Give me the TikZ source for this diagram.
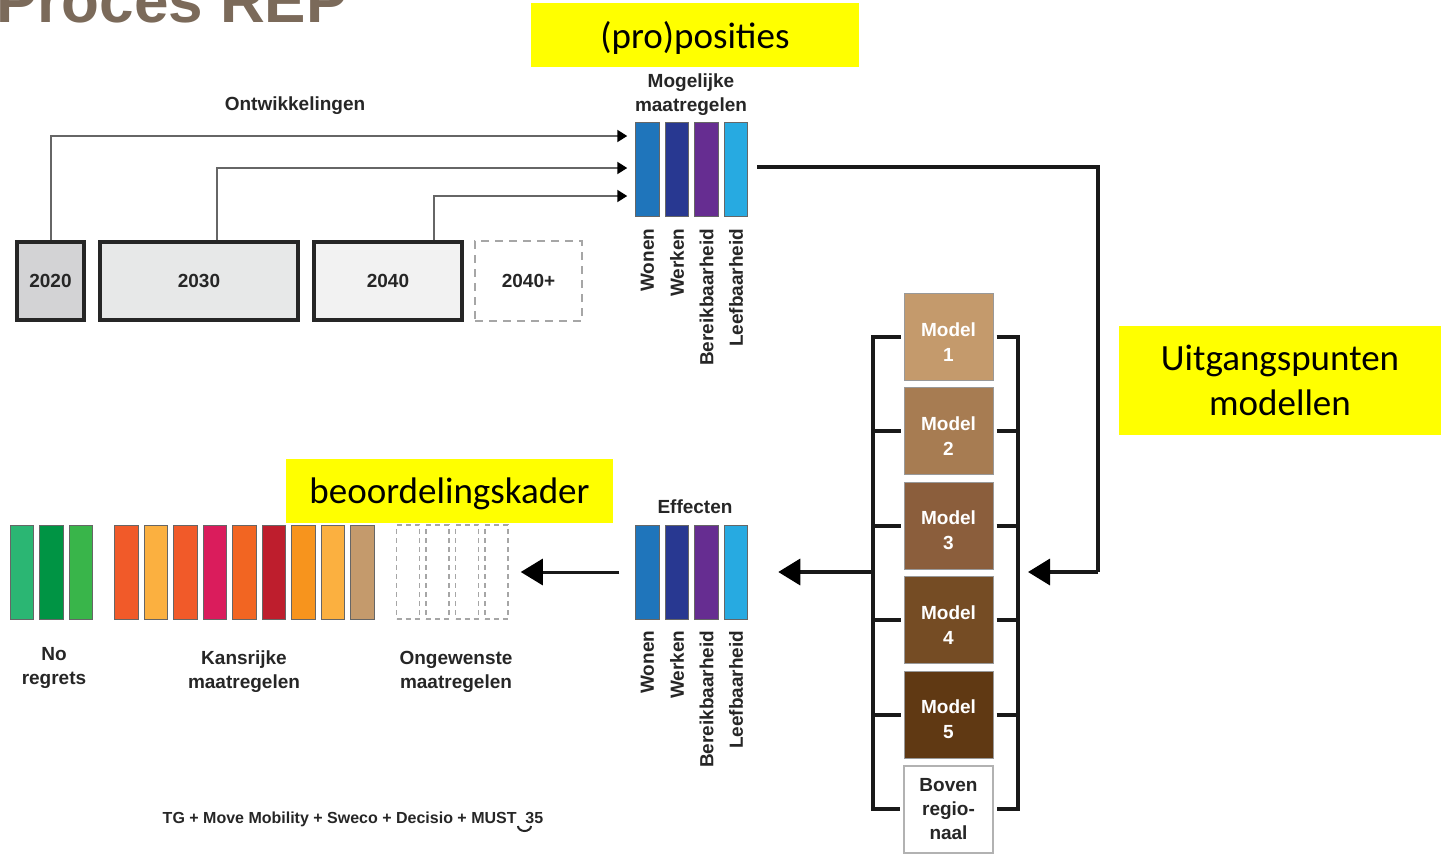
\documentclass[tikz,border=0pt]{standalone}
\usepackage{fontspec}
\setmainfont{Liberation Sans}
\newfontfamily\notefont{Carlito}
\usepackage{xcolor}
\definecolor{TITLECOLOR}{HTML}{7B6A5A}
\definecolor{NOTECOLOR}{HTML}{FFFF00}
\definecolor{Y2020COLOR}{HTML}{D3D3D5}
\definecolor{Y2030COLOR}{HTML}{E7E8E8}
\definecolor{Y2040COLOR}{HTML}{F2F2F2}
\definecolor{WONENCOLOR}{HTML}{1F75BB}
\definecolor{WERKENCOLOR}{HTML}{283891}
\definecolor{BEREIKCOLOR}{HTML}{662D91}
\definecolor{LEEFCOLOR}{HTML}{27AAE1}
\definecolor{MODEL1COLOR}{HTML}{C49A6C}
\definecolor{MODEL2COLOR}{HTML}{A77C52}
\definecolor{MODEL3COLOR}{HTML}{8B5E3C}
\definecolor{MODEL4COLOR}{HTML}{754C24}
\definecolor{MODEL5COLOR}{HTML}{603913}
\definecolor{NR1COLOR}{HTML}{2BB673}
\definecolor{NR2COLOR}{HTML}{009444}
\definecolor{NR3COLOR}{HTML}{39B54A}
\definecolor{KR1COLOR}{HTML}{F15A29}
\definecolor{KR2COLOR}{HTML}{FBB040}
\definecolor{KR3COLOR}{HTML}{DA1C5C}
\definecolor{KR4COLOR}{HTML}{F26522}
\definecolor{KR5COLOR}{HTML}{BE1E2D}
\definecolor{KR6COLOR}{HTML}{F7941D}
\usepackage{tikz}
\usetikzlibrary{positioning,arrows.meta}
\tikzset{
  txt-style/.style = {
    font=\fontsize{19}{24}\selectfont\bfseries,
    text=black!85, inner sep=0pt, align=center
  },
  rot-style/.style = {
    txt-style, rotate=90, anchor=east
  },
  title-style/.style = {
    font=\fontsize{62}{62}\selectfont\bfseries,
    text=TITLECOLOR, inner sep=0pt
  },
  note-style/.style = {
    rectangle, fill=NOTECOLOR, inner sep=0pt, align=center,
    font=\notefont\fontsize{37}{45}\selectfont
  },
  year-style/.style = {
    rectangle, draw=black!85, line width=4pt,
    fill=#1,
    minimum height=78pt, inner sep=0pt,
    font=\fontsize{19}{24}\selectfont\bfseries, text=black!85
  },
  future-style/.style = {
    rectangle, draw=gray!70, line width=2pt, dash pattern=on 8pt off 6pt,
    minimum height=80pt, inner sep=0pt,
    font=\fontsize{19}{24}\selectfont\bfseries, text=black!85
  },
  bar-style/.style = {
    rectangle, draw=black!60, line width=1pt,
    fill=#1,
    minimum width=23.5pt, minimum height=94pt, inner sep=0pt
  },
  ong-style/.style = {
    rectangle, draw=gray!70, line width=1.5pt, dash pattern=on 5pt off 4pt,
    minimum width=23pt, minimum height=94pt, inner sep=0pt
  },
  box-style/.style = {
    rectangle, line width=1pt,
    fill=#1,
    minimum width=89pt, minimum height=87pt, inner sep=0pt,
    align=center
  },
  model-style/.style = {
    box-style=#1, draw=black!40, text=white, text height=49pt,
    font=\fontsize{19}{25}\selectfont\bfseries
  },
  boven-style/.style = {
    box-style=white, draw=gray!60, line width=1.5pt, text=black!85,
    font=\fontsize{19}{24}\selectfont\bfseries
  },
  foot-style/.style = {
    font=\fontsize{16}{18}\selectfont\bfseries, text=black!85, inner sep=0pt
  },
  dev-line/.style = {
    draw=black!60, line width=2pt,
    -{Triangle[length=10pt,width=12pt,color=black]}
  },
  flow-line/.style = {
    draw=black!90, line width=4pt
  },
  flow-arrow/.style = {
    draw=black!90, line width=3.5pt,
    -{Triangle[length=22pt,width=26pt,color=black]}
  },
  bracket-line/.style = {
    draw=black!90, line width=4pt
  }
}

\begin{document}
\begin{tikzpicture}[x=1pt,y=-1pt]
    \useasboundingbox (0,0) rectangle (1441,854);

    %%% title
    \node[title-style,anchor=base west] (title) at (-4,22) {Proces REP};

    %%% ontwikkelingen
    \node[year-style=Y2020COLOR,minimum width=67pt] (y2020) at (50.5,281) {2020};
    \node[year-style=Y2030COLOR,minimum width=198pt,right=12pt of y2020] (y2030) {2030};
    \node[year-style=Y2040COLOR,minimum width=148pt,right=12pt of y2030] (y2040) {2040};
    \node[future-style,minimum width=107pt,right=10pt of y2040] (y2040p) {2040+};
    \node[txt-style] (ontw) at (295,106) {Ontwikkelingen};

    %%% mogelijke maatregelen
    \node[bar-style=WONENCOLOR] (mwonen) at (647.5,169) {};
    \node[bar-style=WERKENCOLOR,right=5pt of mwonen] (mwerken) {};
    \node[bar-style=BEREIKCOLOR,right=5pt of mwerken] (mbereik) {};
    \node[bar-style=LEEFCOLOR,right=5pt of mbereik] (mleef) {};
    \node[txt-style] (mogelijk) at (691,95) {Mogelijke\\maatregelen};
    \node[rot-style] (mwonen-t) at ([yshift=-12pt]mwonen.south) {Wonen};
    \node[rot-style] (mwerken-t) at ([yshift=-12pt]mwerken.south) {Werken};
    \node[rot-style] (mbereik-t) at ([yshift=-12pt]mbereik.south) {Bereikbaarheid};
    \node[rot-style] (mleef-t) at ([yshift=-12pt]mleef.south) {Leefbaarheid};

    %%% modellen
    \node[model-style=MODEL1COLOR] (m1) at (948.5,336.5) {Model\\1};
    \node[model-style=MODEL2COLOR,below=6.5pt of m1] (m2) {Model\\2};
    \node[model-style=MODEL3COLOR,below=6.5pt of m2] (m3) {Model\\3};
    \node[model-style=MODEL4COLOR,below=6.5pt of m3] (m4) {Model\\4};
    \node[model-style=MODEL5COLOR,below=6.5pt of m4] (m5) {Model\\5};
    \node[boven-style,below=6.5pt of m5] (boven) {Boven\\regio-\\naal};

    %%% effecten
    \node[bar-style=WONENCOLOR] (ewonen) at (647.5,572) {};
    \node[bar-style=WERKENCOLOR,right=5pt of ewonen] (ewerken) {};
    \node[bar-style=BEREIKCOLOR,right=5pt of ewerken] (ebereik) {};
    \node[bar-style=LEEFCOLOR,right=5pt of ebereik] (eleef) {};
    \node[txt-style] (effecten) at (695,507) {Effecten};
    \node[rot-style] (ewonen-t) at ([yshift=-11pt]ewonen.south) {Wonen};
    \node[rot-style] (ewerken-t) at ([yshift=-11pt]ewerken.south) {Werken};
    \node[rot-style] (ebereik-t) at ([yshift=-11pt]ebereik.south) {Bereikbaarheid};
    \node[rot-style] (eleef-t) at ([yshift=-11pt]eleef.south) {Leefbaarheid};

    %%% beoordeling
    \node[bar-style=NR1COLOR] (nr1) at (22,572) {};
    \node[bar-style=NR2COLOR,right=5pt of nr1] (nr2) {};
    \node[bar-style=NR3COLOR,right=5pt of nr2] (nr3) {};
    \node[bar-style=KR1COLOR] (kr1) at (126.5,572) {};
    \node[bar-style=KR2COLOR,right=5pt of kr1] (kr2) {};
    \node[bar-style=KR1COLOR,right=5pt of kr2] (kr3) {};
    \node[bar-style=KR3COLOR,right=5pt of kr3] (kr4) {};
    \node[bar-style=KR4COLOR,right=5pt of kr4] (kr5) {};
    \node[bar-style=KR5COLOR,right=5pt of kr5] (kr6) {};
    \node[bar-style=KR6COLOR,right=5pt of kr6] (kr7) {};
    \node[bar-style=KR2COLOR,right=5pt of kr7] (kr8) {};
    \node[bar-style=MODEL1COLOR,right=5pt of kr8] (kr9) {};
    \node[ong-style] (ong1) at (408,572) {};
    \node[ong-style,right=5pt of ong1] (ong2) {};
    \node[ong-style,right=5pt of ong2] (ong3) {};
    \node[ong-style,right=5pt of ong3] (ong4) {};
    \node[txt-style] (noregrets) at (54,668) {No\\regrets};
    \node[txt-style] (kansrijk) at (244,672) {Kansrijke\\maatregelen};
    \node[txt-style] (ongewenst) at (456,672) {Ongewenste\\maatregelen};

    %%% footer
    \node[foot-style] (footer) at (353,819) {TG + Move Mobility + Sweco + Decisio + MUST\ \ 35};
    \draw[line width=2pt,black!85] (518,826) arc (180:0:6.5 and 5);

    %%% arrows
    % ontwikkelingen to mogelijke maatregelen
    \draw[dev-line] (y2020.north) |- ([xshift=-8pt,yshift=33pt]mwonen.west);
    \draw[dev-line] ([xshift=18pt]y2030.north) |- ([xshift=-8pt,yshift=1pt]mwonen.west);
    \draw[dev-line] ([xshift=46pt]y2040.north) |- ([xshift=-8pt,yshift=-27pt]mwonen.west);
    % mogelijke maatregelen to modellen
    \coordinate (rturn) at (1098,572);
    \coordinate (rin) at (1028,572);
    \coordinate (lbrack) at (872.5,572);
    \draw[flow-line] ([xshift=9pt,yshift=2pt]mleef.east) -| (rturn);
    \draw[flow-arrow] (rturn) -- (rin);
    % brackets round the modellen
    \draw[bracket-line] ([xshift=-3pt]m1.west) -- ++(-28,0) |- ([xshift=-3pt]boven.west);
    \draw[bracket-line] ([xshift=-3pt]m2.west) -- ++(-28,0);
    \draw[bracket-line] ([xshift=-3pt]m3.west) -- ++(-28,0);
    \draw[bracket-line] ([xshift=-3pt]m4.west) -- ++(-28,0);
    \draw[bracket-line] ([xshift=-3pt]m5.west) -- ++(-28,0);
    \draw[bracket-line] ([xshift=3pt]m1.east) -- ++(21,0) |- ([xshift=3pt]boven.east);
    \draw[bracket-line] ([xshift=3pt]m2.east) -- ++(21,0);
    \draw[bracket-line] ([xshift=3pt]m3.east) -- ++(21,0);
    \draw[bracket-line] ([xshift=3pt]m4.east) -- ++(21,0);
    \draw[bracket-line] ([xshift=3pt]m5.east) -- ++(21,0);
    % modellen to effecten
    \draw[flow-arrow] (lbrack) -- ([xshift=30pt]eleef.east);
    % effecten to beoordeling
    \draw[flow-arrow,line width=3pt] ([xshift=-16pt]ewonen.west) -- ([xshift=12pt]ong4.east);

    %%% notes
    \node[note-style,text depth=0pt,minimum width=328pt,minimum height=64pt] (proposities) at (695,35) {(pro)posities};
    \node[note-style,minimum width=322pt,minimum height=109pt] (uitgangspunten) at (1280,380.5) {Uitgangspunten\\modellen};
    \node[note-style,text depth=0pt,minimum width=327pt,minimum height=64pt] (beoordeling) at (449.5,491) {beoordelingskader};
\end{tikzpicture}
\end{document}
